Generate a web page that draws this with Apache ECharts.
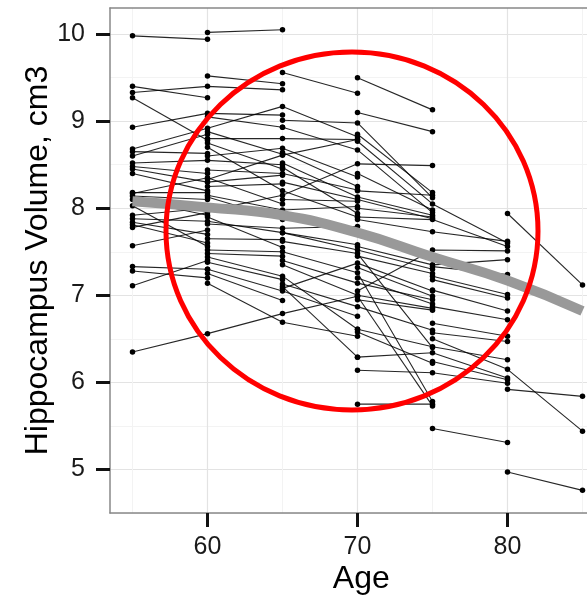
<!DOCTYPE html>
<html><head><meta charset="utf-8">
<script src="https://cdn.jsdelivr.net/npm/echarts@6/dist/echarts.min.js"></script>
<style>html,body{margin:0;padding:0;background:#fff;}#c{width:587px;height:598px;}</style>
</head><body><div id="c"></div>
<script>
// Subjects grouped by age at first visit; each row = volumes at consecutive 5-year visits
const start55 = [
 [9.98, 9.94],
 [9.40, 9.27],
 [9.33, 9.40, 9.36],
 [9.27, 8.78],
 [8.93, 9.09, 9.07],
 [8.68, 8.92, 9.17, 8.82],
 [8.65, 8.63],
 [8.60, 8.85],
 [8.52, 8.55, 8.50],
 [8.48, 8.40],
 [8.45, 8.30, 8.38],
 [8.40, 8.20],
 [8.18, 8.18],
 [8.17, 8.35, 8.05],
 [8.14, 8.10],
 [8.10, 7.92],
 [8.03, 7.56],
 [7.92, 8.00],
 [7.88, 7.85, 7.72, 7.58],
 [7.84, 7.70],
 [7.81, 7.60],
 [7.78, 7.95],
 [7.57, 7.75],
 [7.33, 7.30],
 [7.28, 7.20],
 [7.11, 7.40],
 [6.35, 6.56, 6.79, 6.99]
];
const start60 = [
 [10.02, 10.05],
 [9.52, 9.43],
 [9.05, 8.93],
 [8.88, 8.62],
 [8.80, 8.80, 8.79],
 [8.75, 8.45],
 [8.70, 8.20, 7.90],
 [8.60, 8.69, 8.36],
 [8.44, 8.40, 8.21],
 [8.33, 8.61, 8.79],
 [8.25, 8.28],
 [8.15, 7.98, 8.02],
 [8.13, 7.87],
 [7.97, 8.15, 8.51, 8.49],
 [7.90, 7.55],
 [7.82, 7.77, 7.79],
 [7.65, 7.64],
 [7.52, 7.50, 7.26, 5.78],
 [7.48, 7.45],
 [7.44, 7.22, 6.61],
 [7.38, 7.18],
 [7.30, 7.05, 6.76],
 [7.25, 6.94],
 [7.14, 6.69, 6.53]
];
const start65 = [
 [9.56, 9.32],
 [9.01, 8.98, 8.12],
 [8.93, 8.67, 7.95],
 [8.64, 8.25],
 [8.52, 8.13, 7.92],
 [8.47, 7.94],
 [8.30, 8.10, 7.88],
 [8.10, 8.08],
 [7.72, 7.52, 7.30],
 [7.62, 7.48, 6.40],
 [7.40, 7.14, 6.95],
 [7.35, 7.00, 6.85],
 [7.13, 6.87, 6.60],
 [7.10, 6.29],
 [7.08, 7.37, 7.05]
];
const start70 = [
 [9.50, 9.13],
 [9.10, 8.88],
 [8.85, 8.18],
 [8.77, 8.05, 7.60],
 [8.40, 7.98],
 [8.20, 8.15],
 [8.00, 7.90],
 [7.90, 7.87, 7.56],
 [7.87, 7.73, 7.62],
 [7.56, 7.35, 7.41],
 [7.45, 7.25],
 [7.32, 6.99],
 [7.20, 6.90],
 [7.05, 7.52, 7.51],
 [6.99, 5.73],
 [6.95, 6.83],
 [6.58, 6.22],
 [6.61, 6.41, 6.26],
 [6.29, 6.34, 6.05],
 [6.14, 6.11, 5.99],
 [5.75, 5.75]
];
const start75 = [
 [7.33, 7.24],
 [7.22, 7.01],
 [7.18, 6.97],
 [7.06, 6.82],
 [6.87, 6.72],
 [6.68, 6.53],
 [6.57, 6.47],
 [6.50, 6.15, 5.44],
 [6.24, 6.03],
 [5.47, 5.31]
];
const start80 = [
 [7.94, 7.12],
 [5.92, 5.84],
 [4.97, 4.76]
];
const trendAges = [55, 60, 65, 70, 75, 80, 85];
const trendVolumes = [8.08, 8.01, 7.92, 7.72, 7.44, 7.17, 6.82];
const xMajorTicks = [60, 70, 80];
const xMinorTicks = [55, 65, 75, 85];
const yMajorTicks = [5, 6, 7, 8, 9, 10];
const yMinorTicks = [4.5, 5.5, 6.5, 7.5, 8.5, 9.5];

const groups = [[55, start55], [60, start60], [65, start65], [70, start70], [75, start75], [80, start80]];
const series = [];
groups.forEach(([a0, list]) => {
  list.forEach(vols => {
    series.push({
      type: 'line', xAxisIndex: 0, yAxisIndex: 0,
      data: vols.map((v, i) => [a0 + 5 * i, v]),
      symbol: 'circle', symbolSize: 5.5, showSymbol: true,
      itemStyle: { color: '#000' },
      lineStyle: { color: '#000', width: 1.1, opacity: 0.85 },
      emphasis: { disabled: true }, silent: true, z: 2
    });
  });
});
series.push({
  type: 'line', xAxisIndex: 0, yAxisIndex: 0,
  data: trendAges.map((a, i) => [a, trendVolumes[i]]),
  smooth: true, symbol: 'none',
  lineStyle: { color: '#999999', width: 10, cap: 'butt' },
  silent: true, z: 3
});

const FONT = '"Liberation Sans", Arial, Helvetica, sans-serif';
const chart = echarts.init(document.getElementById('c'), null, { renderer: 'canvas' });
chart.setOption({
  animation: false,
  backgroundColor: '#fff',
  textStyle: { fontFamily: FONT },
  grid: { left: 110, top: 8, bottom: 85, right: -25.5, containLabel: false, outerBoundsMode: 'none' },
  xAxis: [{
    type: 'value', min: 53.5, max: 87, position: 'bottom',
    axisLine: { show: true, onZero: false, lineStyle: { color: '#888', width: 1.5 } },
    axisTick: { show: true, customValues: xMajorTicks, length: 14, lineStyle: { color: '#111', width: 3 } },
    axisLabel: { show: true, customValues: xMajorTicks, fontSize: 25, color: '#1a1a1a', margin: 22, fontFamily: FONT },
    splitLine: { show: true, lineStyle: { color: '#e3e3e3', width: 1.2 } },
    name: 'Age', nameLocation: 'middle', nameGap: 50, nameMoveOverlap: false,
    nameTextStyle: { fontSize: 32, color: '#000', fontFamily: FONT }
  }, {
    type: 'value', min: 53.5, max: 87, position: 'top',
    axisLine: { show: true, onZero: false, lineStyle: { color: '#888', width: 1.5 } },
    axisTick: { show: false, customValues: xMinorTicks },
    axisLabel: { show: false, customValues: xMinorTicks },
    splitLine: { show: true, lineStyle: { color: '#f3f3f3', width: 1 } }
  }],
  yAxis: [{
    type: 'value', min: 4.5, max: 10.3, position: 'left',
    axisLine: { show: true, onZero: false, lineStyle: { color: '#888', width: 1.5 } },
    axisTick: { show: true, customValues: yMajorTicks, length: 14, lineStyle: { color: '#111', width: 3 } },
    axisLabel: { show: true, customValues: yMajorTicks, fontSize: 25, color: '#1a1a1a', margin: 25, fontFamily: FONT },
    splitLine: { show: true, lineStyle: { color: '#e3e3e3', width: 1.2 } },
    name: 'Hippocampus Volume, cm3', nameLocation: 'middle', nameGap: 56, nameRotate: 90, nameMoveOverlap: false,
    nameTextStyle: { fontSize: 32, color: '#000', fontFamily: FONT }
  }, {
    type: 'value', min: 4.5, max: 10.3, position: 'right',
    axisLine: { show: false },
    axisTick: { show: false, customValues: yMinorTicks },
    axisLabel: { show: false, customValues: yMinorTicks },
    splitLine: { show: true, lineStyle: { color: '#f3f3f3', width: 1 } }
  }],
  series: series,
  graphic: [{
    type: 'ellipse', silent: true, z: 100,
    shape: { cx: 352, cy: 231, rx: 186, ry: 179 },
    style: { fill: null, stroke: '#ff0000', lineWidth: 5 }
  }]
});
</script></body></html>
